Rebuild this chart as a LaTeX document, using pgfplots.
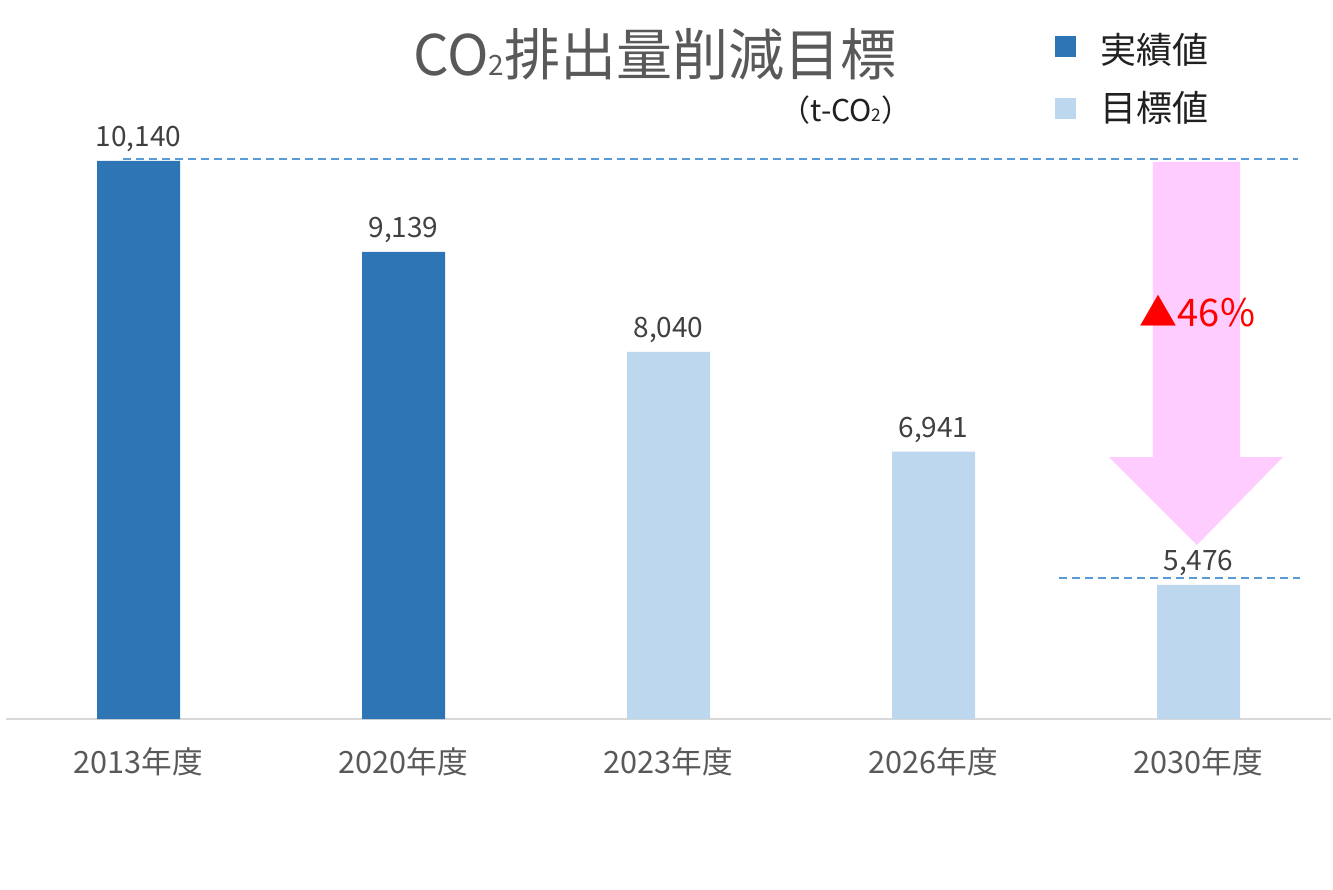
\documentclass[border=0pt]{standalone}
\usepackage{fontspec}
\setmainfont{Noto Sans CJK JP}
\usepackage{pgfplots}
\pgfplotsset{compat=1.18}
\definecolor{actual}{HTML}{2E75B6}
\definecolor{target}{HTML}{BDD7EE}
\definecolor{arrowpink}{HTML}{FFCCFF}
\definecolor{dashblue}{HTML}{5B9BD5}
\definecolor{txtgray}{HTML}{595959}
\definecolor{lblgray}{HTML}{404040}
\definecolor{axisgray}{HTML}{D9D9D9}
\definecolor{legtxt}{HTML}{202020}
\pgfplotsset{barlabels/.style={
  nodes near coords={\pgfmathprintnumber[assume math mode=true, 1000 sep={,}, fixed, precision=0]{\pgfplotspointmeta}},
  every node near coord/.append style={font=\fontsize{21pt}{21pt}\selectfont, text=lblgray, yshift=3.2pt},
}}
\begin{document}
\begin{tikzpicture}[x=0.75pt,y=0.75pt]
\useasboundingbox (0,0) rectangle (1333,889);
\begin{axis}[
  at={(4.5pt,127.5pt)}, anchor=south west,
  scale only axis, width=993.75pt, height=477.2pt,
  xmin=-0.5, xmax=4.5, ymin=4000, ymax=11000,
  clip=false,
  axis x line*=bottom, axis y line=none,
  x axis line style={axisgray, line width=1.2pt, -},
  major tick length=0pt,
  xtick={0,1,2,3,4},
  xticklabels={2013年度,2020年度,2023年度,2026年度,2030年度},
  xticklabel style={font=\fontsize{23pt}{23pt}\selectfont, text=txtgray, anchor=base, yshift=-40.5pt},
  ytick=\empty,
]
% arrow
\addplot[fill=arrowpink, draw=none] coordinates {(3.828,10128) (4.157,10128) (4.157,6882) (4.319,6882) (3.994,5914) (3.662,6882) (3.828,6882)} -- cycle;
% dashed reference lines
\addplot[dashblue, line width=1.5pt, dash pattern=on 6pt off 3.75pt] coordinates {(-0.058,10161) (4.375,10161)};
\addplot[dashblue, line width=1.5pt, dash pattern=on 6pt off 3.75pt] coordinates {(3.474,5551) (4.383,5551)};
% bars
\addplot[ybar, bar width=62.25pt, bar shift=0pt, fill=actual, draw=none, barlabels] coordinates {(0,10140) (1,9139)};
\addplot[ybar, bar width=62.25pt, bar shift=0pt, fill=target, draw=none, barlabels] coordinates {(2,8040) (3,6941) (4,5476)};
\node[text=red, font=\fontsize{28.5pt}{28.5pt}\selectfont, inner sep=0pt] at (axis cs:3.996,8490) {▲46\%};
\end{axis}
% title
\node[text=txtgray, font=\fontsize{42pt}{42pt}\selectfont, inner sep=0pt] at (655,835) {CO{\fontsize{21pt}{21pt}\selectfont 2}排出量削減目標};
\node[text=legtxt, font=\fontsize{22.5pt}{22.5pt}\selectfont, inner sep=0pt] at (846,779) {（t-CO{\fontsize{13pt}{13pt}\selectfont 2}）};
% legend
\fill[actual] (1054.5,831.5) rectangle (1075.5,852.5);
\fill[target] (1054.5,769.5) rectangle (1075.5,790.5);
\node[anchor=west, text=legtxt, font=\fontsize{27pt}{27pt}\selectfont, inner sep=0pt] at (1100,839) {実績値};
\node[anchor=west, text=legtxt, font=\fontsize{27pt}{27pt}\selectfont, inner sep=0pt] at (1100,781.5) {目標値};
\end{tikzpicture}
\end{document}
